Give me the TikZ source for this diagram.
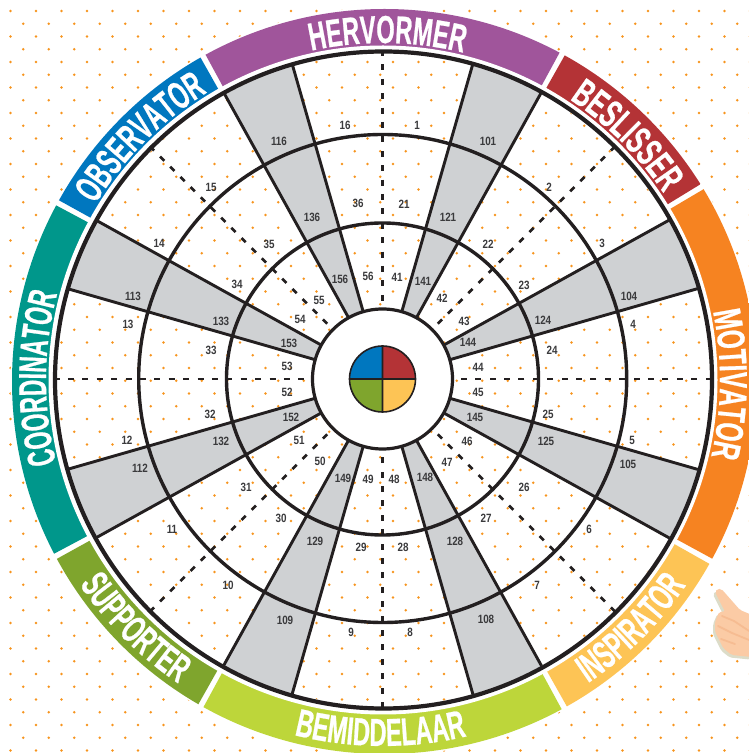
\documentclass[tikz,border=0pt]{standalone}
\usepackage{fontspec}
\usetikzlibrary{decorations.text}
\newfontfamily\ringfamA{Liberation Sans}[FakeStretch=0.58,BoldFeatures={FakeBold=0.6}]
\newfontfamily\ringfamB{Liberation Sans}[FakeStretch=0.605,BoldFeatures={FakeBold=0.6}]
\newfontfamily\ringfamC{Liberation Sans}[FakeStretch=0.625,BoldFeatures={FakeBold=0.6}]
\newfontfamily\numfam{Liberation Sans}[FakeStretch=0.82]
\newcommand{\ringA}{\ringfamA\bfseries\fontsize{39}{39}\selectfont}
\newcommand{\ringB}{\ringfamB\bfseries\fontsize{39}{39}\selectfont}
\newcommand{\ringC}{\ringfamC\bfseries\fontsize{39}{39}\selectfont}
\definecolor{dotorange}{HTML}{F7941D}
\definecolor{cpurple}{HTML}{A0559B}
\definecolor{cblue}{HTML}{0077BF}
\definecolor{cteal}{HTML}{00978B}
\definecolor{cgreen}{HTML}{7FA52D}
\definecolor{clime}{HTML}{BDD63A}
\definecolor{cyellow}{HTML}{FDC455}
\definecolor{corange}{HTML}{F68321}
\definecolor{cred}{HTML}{B43336}
\definecolor{cgray}{HTML}{CFD1D3}
\definecolor{cink}{HTML}{231F20}
\definecolor{ctext}{HTML}{3A3A3C}
\definecolor{cskin}{HTML}{FBCBA5}
\definecolor{cskind}{HTML}{F6BC92}
\definecolor{cshadow}{HTML}{DCDCC8}
\tikzset{
  ringlabel/.style 2 args={decorate,decoration={text along path,text align=center,text color=white,text={|#1|#2}}},
  numlabel/.style={font=\numfam\bfseries\fontsize{12}{12}\selectfont,text=ctext,inner sep=0pt},
  ringline/.style={draw=cink,line width=3.4pt},
  sectorline/.style={draw=cink,line width=2.9pt},
  dashline/.style={draw=cink,line width=2.8pt,dash pattern=on 6pt off 8.4pt}
}
\begin{document}
\begin{tikzpicture}[x=1pt,y=1pt]
\clip (0,0) rectangle (749,753);
\fill[white] (0,0) rectangle (749,753);
% coloured ring
\begin{scope}
  \clip (384.5,371.5) circle (372.5);
  \begin{scope}[shift={(382,374)}]
    \foreach \c/\a/\b in {cpurple/61/119,cblue/119/151.5,cteal/151.5/208.5,cgreen/208.5/241,clime/241/299,cyellow/299/331,corange/331/391,cred/31/61}{
      \pgfmathsetmacro{\aa}{\a+0.45}
      \pgfmathsetmacro{\bb}{\b-0.45}
      \fill[\c] (0,0) -- (\aa:700) arc (\aa:\bb:700) -- cycle;
    }
  \end{scope}
\end{scope}
\fill[white] (383,373) circle (334.5);
% background dots
\begin{scope}[even odd rule]
  \clip (0,0) rectangle (749,753) (384.5,371.5) circle (374) (383.5,373) circle (326);
  \fill[dotorange] \foreach \n in {0,2,...,58}{\foreach \k in {0,...,29}{(10.5+25.5*\k,742-12.75*\n) circle (1.4)}};
  \fill[dotorange] \foreach \n in {1,3,...,59}{\foreach \k in {0,...,29}{(23.25+25.5*\k,742-12.75*\n) circle (1.4)}};
\end{scope}
% dial
\begin{scope}[shift={(382.5,374)}]
  \foreach \a in {16,61,106,151,196,241,286,331}{
    \pgfmathsetmacro{\b}{\a+13}
    \fill[cgray] (\a:70) -- (\a:328) arc (\a:\b:328) -- (\b:70) arc (\b:\a:70) -- cycle;
    \draw[sectorline] (\a:70) -- (\a:328);
    \draw[sectorline] (\b:70) -- (\b:328);
  }
  \foreach \a in {0,45,...,315}{\draw[dashline] (\a:329) -- (\a:76);}
  \draw[ringline] (0,0) circle (156);
  \draw[ringline] (0.2,0.5) circle (244);
  \draw[draw=cink,line width=4.2pt] (1,-1) circle (328.5);
  \fill[white] (0,0) circle (69.5);
  \draw[draw=cink,line width=3.2pt] (0,0) circle (70);
  % centre disc
  \fill[cred] (0,0) -- (33,0) arc (0:90:33) -- cycle;
  \fill[cblue] (0,0) -- (0,33) arc (90:180:33) -- cycle;
  \fill[cgreen] (0,0) -- (-33,0) arc (180:270:33) -- cycle;
  \fill[cyellow] (0,0) -- (0,-33) arc (270:360:33) -- cycle;
  \draw[draw=cink,line width=1.6pt] (0,0) circle (33) (-33,0) -- (33,0) (0,-33) -- (0,33);
\end{scope}
% ring labels
\begin{scope}[shift={(383,373)}]
  \path[ringlabel={\ringB}{HERVORMER}] (114.25:337) arc (114.25:64.25:337);
  \path[ringlabel={\ringA}{OBSERVATOR}] (160:337) arc (160:110:337);
  \path[ringlabel={\ringA}{COORDINATOR}] (204.7:337) arc (204.7:154.7:337);
  \path[ringlabel={\ringB}{BESLISSER}] (70:337) arc (70:20:337);
  \path[ringlabel={\ringC}{MOTIVATOR}] (24.3:337) arc (24.3:-25.7:337);
  \path[ringlabel={\ringA}{INSPIRATOR}] (-70:366) arc (-70:-20:366);
  \path[ringlabel={\ringB}{BEMIDDELAAR}] (-115.4:366) arc (-115.4:-65.4:366);
  \path[ringlabel={\ringA}{SUPPORTER}] (200:366) arc (200:250:366);
\end{scope}
% numbers
\foreach \t/\x/\y in {1/417/125,2/549/187,3/602/243,4/633/324,5/632/440,6/589/529,7/537/585,8/410/632,
  9/351/632,10/228/585,11/172/529,12/127/440,13/128/324,14/159/243,15/211/187,16/345/125,
  21/404/204,22/488/244,23/524/285,24/552/350,25/548/414,26/524/487,27/486/518,28/403/547,
  29/361/547,30/281/518,31/246/487,32/210/414,33/211/350,34/237/284,35/269/244,36/358/203,
  41/397/277,42/442/298,43/464/321,44/478/367,45/478/392,46/467/441,47/447/462,48/394/479,
  49/368/479,50/320/461,51/299/440,52/287/392,53/287/366,54/300/319,55/319/300,56/368/276,
  101/488/141,104/629/296,105/628/464,108/486/619,109/285/620,112/140/468,113/133/296,116/279/141,
  121/448/217,124/543/320,125/546/441,128/455/541,129/315/541,132/221/441,133/221/321,136/312/217,
  141/423/281,144/468/342,145/475/417,148/425/477,149/343/478,152/291/417,153/289/343,156/340/279}{
  \node[numlabel] (n\t) at (\x,753-\y) {\t};
}
% hand
\fill[cshadow,rounded corners=2pt,shift={(-2,-2.5)}] (715,161) -- (717,164) -- (721.5,164) -- (740,143) -- (752,138) -- (752,96) -- (731.7,98) -- (723.3,104.7) -- (715,121.3) -- (715,131.3) -- (719.3,141.3) -- (725,141.3) -- cycle;
\fill[cskin,rounded corners=2pt] (715,161) -- (717,164) -- (721.5,164) -- (740,143) -- (752,138) -- (752,96) -- (731.7,98) -- (723.3,104.7) -- (715,121.3) -- (715,131.3) -- (719.3,141.3) -- (725,141.3) -- cycle;
\draw[cskind,line width=1.8pt,line cap=round] (722,137) -- (734,132) -- (749,122);
\draw[cskind,line width=1.8pt,line cap=round] (718,127) -- (732,120) -- (749,113);
\draw[cskind,line width=1.8pt,line cap=round] (721,114) -- (735,109);
\end{tikzpicture}
\end{document}
